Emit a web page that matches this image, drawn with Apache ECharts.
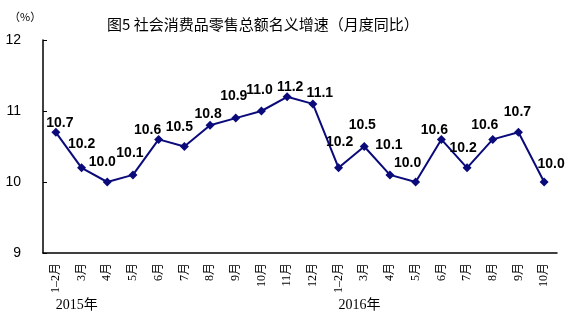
<!DOCTYPE html>
<html>
<head>
<meta charset="utf-8">
<script src="https://cdn.jsdelivr.net/npm/echarts@6/dist/echarts.min.js"></script>
<style>
  html, body { margin: 0; padding: 0; background: #fff; }
  #chart { width: 578px; height: 322px; }
</style>
</head>
<body>
<div id="chart"></div>
<script>
// Monthly categories (2015 Jan–Feb through 2016 Oct)
const months = ['1–2月','3月','4月','5月','6月','7月','8月','9月','10月','11月','12月',
                '1–2月','3月','4月','5月','6月','7月','8月','9月','10月'];
// Year markers and the category index where each year starts
const yearLabels = ['2015年', '2016年'];
const yearStart = [0, 11];
// Nominal growth rate of retail sales, % year on year
const growth = [10.7, 10.2, 10.0, 10.1, 10.6, 10.5, 10.8, 10.9, 11.0, 11.2, 11.1,
                10.2, 10.5, 10.1, 10.0, 10.6, 10.2, 10.6, 10.7, 10.0];
// Y-axis range and step
const yMin = 9, yMax = 12, yStep = 1;

// Hand-placed label nudges so the value labels don't collide with the line
const labelNudge = [[4,-9],[0,-24],[-5,-20],[-3,-22],[-11,-9],[-5,-19],[-2,-11],[-2,-22],
                    [-2,-21],[3,-10],[7,-11],[1,-26],[-2,-21],[-1,-30],[-8,-19],[-7,-9],
                    [-4,-20],[-8,-14],[-1,-20],[7,-18]];

const chart = echarts.init(document.getElementById('chart'), null, { renderer: 'canvas' });

const lineColor = '#0a0a7a';
const cjk = '"Liberation Serif", "Noto Sans CJK SC", serif';

chart.setOption({
  animation: false,
  backgroundColor: '#ffffff',
  title: {
    text: '图5 社会消费品零售总额名义增速（月度同比）',
    left: 107,
    top: 17,
    padding: 0,
    textStyle: { fontFamily: '"Noto Sans CJK SC", sans-serif', fontSize: 15, fontWeight: 'normal', color: '#000' }
  },
  graphic: [{
    type: 'text',
    left: 9,
    top: 11,
    style: { text: '（%）', font: '11px "Noto Sans CJK SC", sans-serif', fill: '#000' }
  }],
  grid: { left: 43, right: 21, top: 40, bottom: 69 },
  xAxis: [{
    type: 'category',
    data: months,
    boundaryGap: true,
    axisLine: { lineStyle: { color: '#000', width: 1.5 } },
    axisTick: { inside: true, length: 4, interval: 0, lineStyle: { color: '#000' } },
    axisLabel: {
      interval: 0,
      rotate: 90,
      margin: 10,
      fontSize: 12,
      fontFamily: cjk,
      color: '#000'
    }
  }, {
    type: 'category',
    data: months,
    position: 'bottom',
    boundaryGap: true,
    axisLine: { show: false },
    axisTick: { show: false },
    axisLabel: {
      interval: 0,
      margin: 45,
      align: 'left',
      fontSize: 14,
      fontFamily: cjk,
      color: '#000',
      formatter: function (v, i) {
        const k = yearStart.indexOf(i);
        return k >= 0 ? yearLabels[k] : '';
      }
    }
  }],
  yAxis: {
    type: 'value',
    min: yMin,
    max: yMax,
    interval: yStep,
    splitLine: { show: false },
    axisLine: { show: true, lineStyle: { color: '#000', width: 1.5 } },
    axisTick: { show: true, inside: true, length: 4, lineStyle: { color: '#000' } },
    axisLabel: {
      margin: 22,
      fontSize: 14,
      fontFamily: '"Liberation Sans", Arial, sans-serif',
      color: '#000'
    }
  },
  series: [{
    type: 'line',
    xAxisIndex: 0,
    data: growth.map((v, i) => ({
      value: v,
      label: { offset: labelNudge[i] }
    })),
    symbol: 'diamond',
    symbolSize: 9,
    lineStyle: { color: lineColor, width: 2 },
    itemStyle: { color: lineColor },
    label: {
      show: true,
      position: 'inside',
      formatter: p => p.value.toFixed(1),
      fontFamily: '"Liberation Sans", Arial, sans-serif',
      fontSize: 14,
      fontWeight: 'bold',
      color: '#000'
    }
  }]
});
</script>
</body>
</html>
